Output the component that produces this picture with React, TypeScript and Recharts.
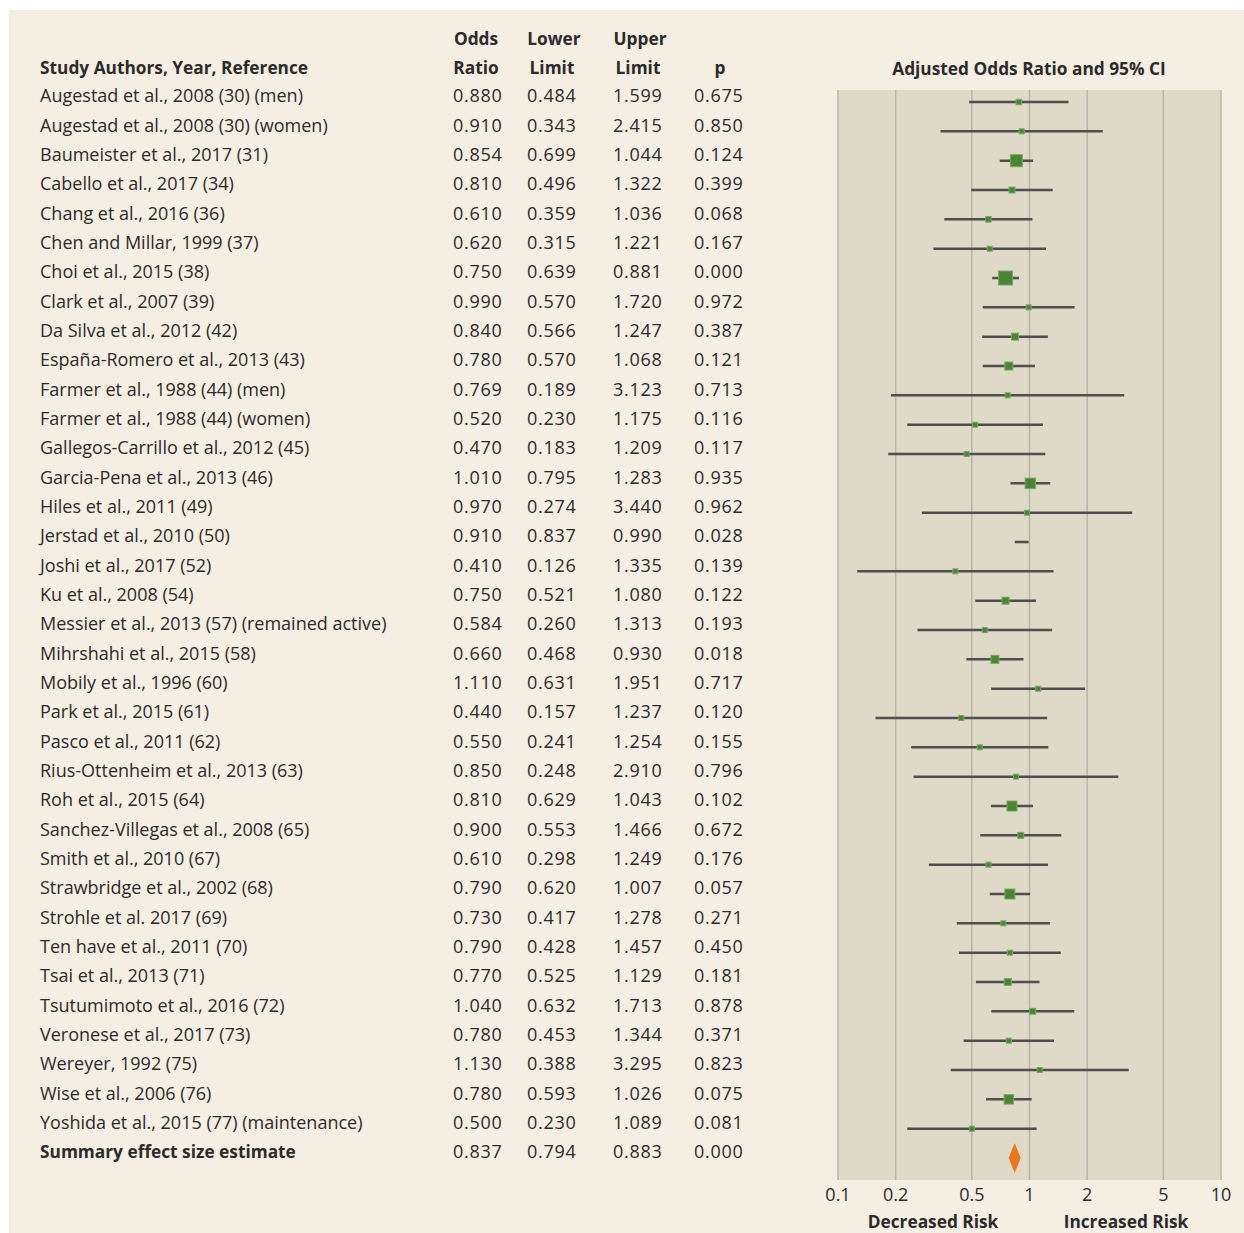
import { CartesianGrid, ComposedChart, ErrorBar, Scatter, XAxis, YAxis, ZAxis } from 'recharts'

const studies = [
  'Augestad et al., 2008 (30) (men)',
  'Augestad et al., 2008 (30) (women)',
  'Baumeister et al., 2017 (31)',
  'Cabello et al., 2017 (34)',
  'Chang et al., 2016 (36)',
  'Chen and Millar, 1999 (37)',
  'Choi et al., 2015 (38)',
  'Clark et al., 2007 (39)',
  'Da Silva et al., 2012 (42)',
  'España-Romero et al., 2013 (43)',
  'Farmer et al., 1988 (44) (men)',
  'Farmer et al., 1988 (44) (women)',
  'Gallegos-Carrillo et al., 2012 (45)',
  'Garcia-Pena et al., 2013 (46)',
  'Hiles et al., 2011 (49)',
  'Jerstad et al., 2010 (50)',
  'Joshi et al., 2017 (52)',
  'Ku et al., 2008 (54)',
  'Messier et al., 2013 (57) (remained active)',
  'Mihrshahi et al., 2015 (58)',
  'Mobily et al., 1996 (60)',
  'Park et al., 2015 (61)',
  'Pasco et al., 2011 (62)',
  'Rius-Ottenheim et al., 2013 (63)',
  'Roh et al., 2015 (64)',
  'Sanchez-Villegas et al., 2008 (65)',
  'Smith et al., 2010 (67)',
  'Strawbridge et al., 2002 (68)',
  'Strohle et al. 2017 (69)',
  'Ten have et al., 2011 (70)',
  'Tsai et al., 2013 (71)',
  'Tsutumimoto et al., 2016 (72)',
  'Veronese et al., 2017 (73)',
  'Wereyer, 1992 (75)',
  'Wise et al., 2006 (76)',
  'Yoshida et al., 2015 (77) (maintenance)',
]

const oddsRatio = [
  0.88, 0.91, 0.854, 0.81, 0.61, 0.62, 0.75, 0.99, 0.84, 0.78, 0.769, 0.52, 0.47, 1.01, 0.97, 0.91, 0.41, 0.75,
  0.584, 0.66, 1.11, 0.44, 0.55, 0.85, 0.81, 0.9, 0.61, 0.79, 0.73, 0.79, 0.77, 1.04, 0.78, 1.13, 0.78, 0.5,
]

const lowerLimit = [
  0.484, 0.343, 0.699, 0.496, 0.359, 0.315, 0.639, 0.57, 0.566, 0.57, 0.189, 0.23, 0.183, 0.795, 0.274, 0.837,
  0.126, 0.521, 0.26, 0.468, 0.631, 0.157, 0.241, 0.248, 0.629, 0.553, 0.298, 0.62, 0.417, 0.428, 0.525, 0.632,
  0.453, 0.388, 0.593, 0.23,
]

const upperLimit = [
  1.599, 2.415, 1.044, 1.322, 1.036, 1.221, 0.881, 1.72, 1.247, 1.068, 3.123, 1.175, 1.209, 1.283, 3.44, 0.99,
  1.335, 1.08, 1.313, 0.93, 1.951, 1.237, 1.254, 2.91, 1.043, 1.466, 1.249, 1.007, 1.278, 1.457, 1.129, 1.713,
  1.344, 3.295, 1.026, 1.089,
]

const pValues = [
  0.675, 0.85, 0.124, 0.399, 0.068, 0.167, 0.0, 0.972, 0.387, 0.121, 0.713, 0.116, 0.117, 0.935, 0.962, 0.028,
  0.139, 0.122, 0.193, 0.018, 0.717, 0.12, 0.155, 0.796, 0.102, 0.672, 0.176, 0.057, 0.271, 0.45, 0.181, 0.878,
  0.371, 0.823, 0.075, 0.081,
]

// relative study weight (marker area)
const weights = [
  30, 25, 144, 36, 30, 25, 196, 25, 49, 64, 25, 25, 25, 110, 25, 0, 25, 49, 25, 64, 25, 25, 25, 25, 100, 36, 25, 100,
  25, 25, 49, 36, 25, 25, 90, 25,
]

const summaryLabel = 'Summary effect size estimate'
const summaryOR = 0.837
const summaryLower = 0.794
const summaryUpper = 0.883
const summaryP = 0.0

const xTicks = [0.1, 0.2, 0.5, 1, 2, 5, 10]

const studyData = studies.map((name, i) => ({
  row: i,
  name,
  or: oddsRatio[i],
  lower: lowerLimit[i],
  upper: upperLimit[i],
  p: pValues[i],
  weight: weights[i],
}))

const summaryData = [
  { row: studies.length, name: summaryLabel, or: summaryOR, lower: summaryLower, upper: summaryUpper, p: summaryP },
]

const tableRows = [...studyData, ...summaryData]
const rowTicks = tableRows.map((r) => r.row)

const FONT = '"Open Sans", Lato, sans-serif'
const INK = '#2b2b2b'
const FS = 17

function TableRow(props: any) {
  const { y, payload } = props
  const r = tableRows[payload.value]
  if (!r) return null
  const ty = y - 6
  const isSummary = r.row === studies.length
  const num = { fontSize: 18, letterSpacing: 0.7 }
  return (
    <g fontFamily={FONT} fill={INK}>
      <text x={40} y={ty} dy="0.35em" fontWeight={isSummary ? 700 : 400} fontSize={isSummary ? 17.3 : 18}>
        {r.name}
      </text>
      <text x={453} y={ty} dy="0.35em" style={num}>
        {r.or.toFixed(3)}
      </text>
      <text x={527} y={ty} dy="0.35em" style={num}>
        {r.lower.toFixed(3)}
      </text>
      <text x={613} y={ty} dy="0.35em" style={num}>
        {r.upper.toFixed(3)}
      </text>
      <text x={694} y={ty} dy="0.35em" style={num}>
        {r.p.toFixed(3)}
      </text>
    </g>
  )
}

function StudySquare(props: any) {
  const { cx, cy, width } = props
  if (!width || width < 1) return <g />
  return (
    <rect
      x={cx - width / 2}
      y={cy - width / 2}
      width={width}
      height={width}
      fill="#4a8533"
      stroke="#79a862"
      strokeWidth={1}
    />
  )
}

function SummaryDiamond(props: any) {
  const { cx, cy } = props
  return <polygon points={`${cx},${cy - 15} ${cx + 6},${cy} ${cx},${cy + 15} ${cx - 6},${cy}`} fill="#e8791f" />
}

const ciKey = (d: any) => [d.or - d.lower, d.upper - d.or]

const label = (text: string, left: number, top: number, center = true, bold = true) => (
  <div
    style={{
      position: 'absolute',
      left,
      top,
      transform: center ? 'translate(-50%, -50%)' : 'translate(0, -50%)',
      fontFamily: FONT,
      fontSize: 17.3,
      fontWeight: bold ? 700 : 400,
      color: INK,
      whiteSpace: 'nowrap',
    }}
  >
    {text}
  </div>
)

export default function App() {
  return (
    <div style={{ position: 'absolute', left: 0, top: 0, width: 1244, height: 1233, background: '#fff' }}>
      <div style={{ position: 'absolute', left: 9, top: 10, width: 1235, height: 1223, background: '#f5eee2' }} />
      {label('Study Authors, Year, Reference', 40, 67, false)}
      {label('Odds', 476, 38)}
      {label('Ratio', 476, 67)}
      {label('Lower', 554, 38)}
      {label('Limit', 552, 67)}
      {label('Upper', 640, 38)}
      {label('Limit', 638, 67)}
      {label('p', 720, 67)}
      {label('Adjusted Odds Ratio and 95% CI', 1029, 68)}
      {label('Decreased Risk', 933, 1221)}
      {label('Increased Risk', 1126, 1221)}
      <div style={{ position: 'absolute', left: 0, top: 0 }}>
        <ComposedChart width={1244} height={1233} margin={{ top: 90, right: 23, bottom: 23, left: 0 }}>
          <CartesianGrid
            horizontal={false}
            vertical
            fill="#dfd9c7"
            stroke="#b8b4a9"
            strokeWidth={1.5}
            strokeDasharray=""
          />
          <XAxis
            type="number"
            dataKey="or"
            scale="log"
            domain={[0.1, 10]}
            ticks={xTicks}
            allowDataOverflow
            axisLine={false}
            tickLine={false}
            height={30}
            tick={{ fill: INK, fontSize: 18, fontFamily: FONT }}
          />
          <YAxis
            type="number"
            dataKey="row"
            domain={[-0.41, 36.75]}
            reversed
            ticks={rowTicks}
            interval={0}
            width={838}
            axisLine={false}
            tickLine={false}
            allowDataOverflow
            tick={<TableRow />}
          />
          <ZAxis type="number" dataKey="weight" domain={[0, 196]} range={[0, (Math.PI * 196) / 4]} />
          <Scatter data={studyData} shape={<StudySquare />} isAnimationActive={false}>
            <ErrorBar dataKey={ciKey} direction="x" width={0} stroke="#4f4f4f" strokeWidth={2.5} />
          </Scatter>
          <Scatter data={summaryData} shape={<SummaryDiamond />} isAnimationActive={false} />
        </ComposedChart>
      </div>
    </div>
  )
}
